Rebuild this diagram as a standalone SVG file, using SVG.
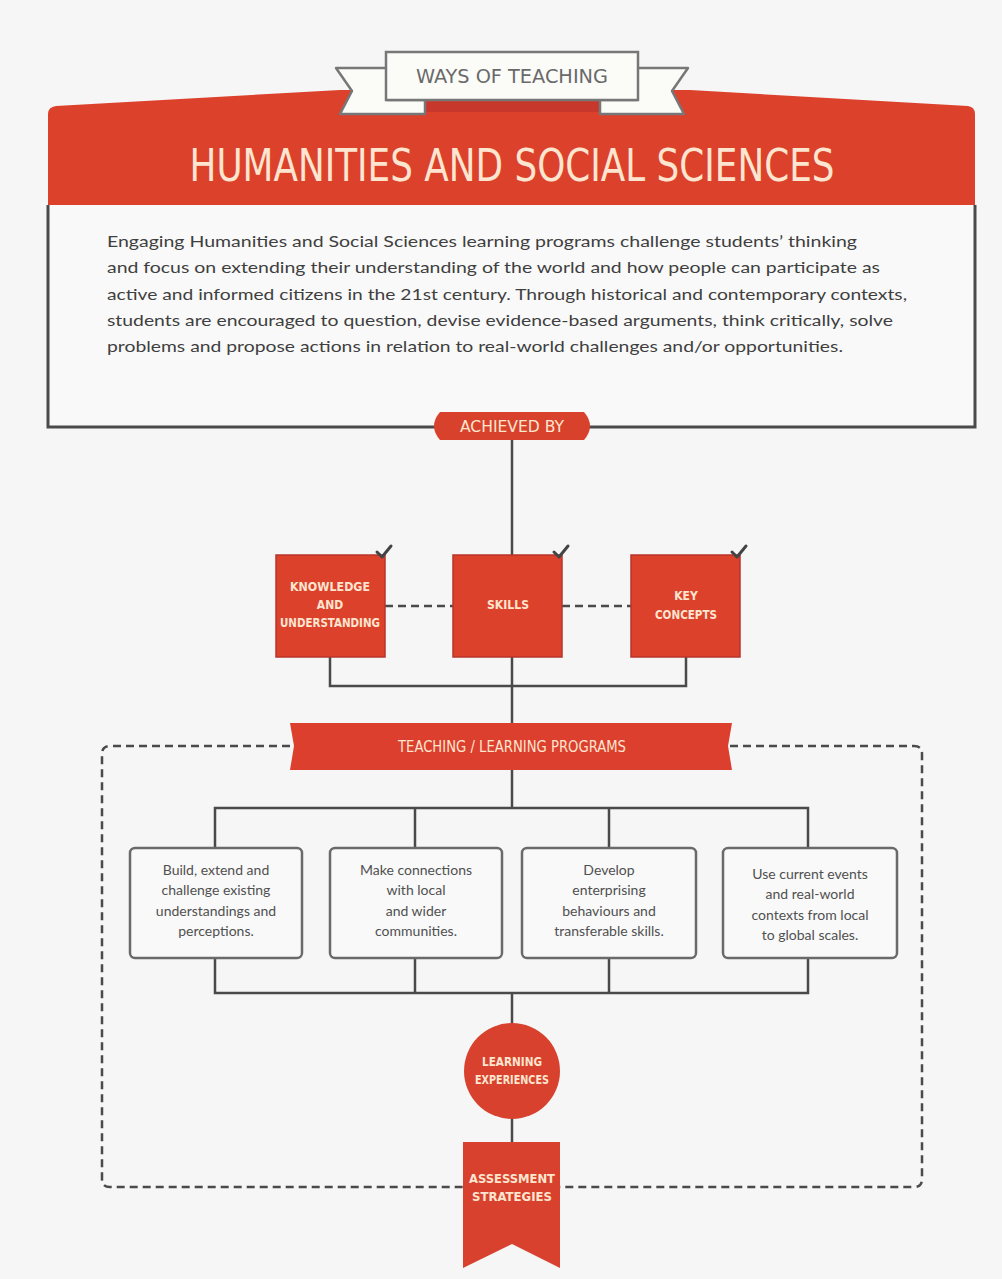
<svg xmlns="http://www.w3.org/2000/svg" width="1002" height="1279" viewBox="0 0 1002 1279">
<style>
.bg{fill:#f6f6f6}
.red{fill:#dc412c}
.cond{font-family:"DejaVu Sans Condensed","DejaVu Sans",sans-serif;font-weight:bold;fill:#fde5d0;text-anchor:middle}
.reg{font-weight:normal}
.body{font-family:Lato,"Open Sans",sans-serif;font-size:15px;fill:#3f3f3f}
.box{font-family:Lato,"Open Sans",sans-serif;font-size:14px;fill:#505050;text-anchor:middle}
.line{stroke:#4a4a4a;stroke-width:2.5;fill:none}
.dash{stroke:#4a4a4a;stroke-width:2.5;fill:none;stroke-dasharray:8 5}
.wbox{fill:#f9f9f9;stroke:#6a6a6a;stroke-width:2.5}
.rbox{fill:#dc412c;stroke:#b8352a;stroke-width:1.5}
.check{stroke:#444;stroke-width:3;fill:none;stroke-linecap:round;stroke-linejoin:round}
</style>
<rect class="bg" x="0" y="0" width="1002" height="1279"/>

<g id="header">
  <path class="red" d="M56,106 L340,90 L690,90 L968,106 Q975,107 975,114 L975,205 L48,205 L48,114 Q48,107 56,106 Z"/>
  <rect x="425" y="98" width="175" height="14" fill="#c8372c"/>
  <text class="cond reg" x="512" y="181" font-size="44" textLength="645" lengthAdjust="spacingAndGlyphs">HUMANITIES AND SOCIAL SCIENCES</text>
</g>

<g id="ribbon">
  <path d="M336,68 L387,68 L387,100 L425,100 L425,114 L340,114 L352,91 Z" fill="#fbfbf8" stroke="#777" stroke-width="2.5" stroke-linejoin="round"/>
  <path d="M688,68 L637,68 L637,100 L600,100 L600,114 L684,114 L672,91 Z" fill="#fbfbf8" stroke="#777" stroke-width="2.5" stroke-linejoin="round"/>
  <rect x="386" y="52" width="252" height="48" fill="#fbfbf8" stroke="#777" stroke-width="2.5"/>
  <text x="512" y="83" font-family="'DejaVu Sans Condensed','DejaVu Sans',sans-serif" font-size="19" fill="#6a6a6a" text-anchor="middle" textLength="192" lengthAdjust="spacingAndGlyphs">WAYS OF TEACHING</text>
</g>

<g id="intro">
  <path d="M48,205 L48,427 L975,427 L975,205" fill="#f9f9f9" stroke="#4a4a4a" stroke-width="3"/>
  <text class="body" x="107" y="247" textLength="750" lengthAdjust="spacingAndGlyphs">Engaging Humanities and Social Sciences learning programs challenge students’ thinking</text>
  <text class="body" x="107" y="273" textLength="773" lengthAdjust="spacingAndGlyphs">and focus on extending their understanding of the world and how people can participate as</text>
  <text class="body" x="107" y="300" textLength="800" lengthAdjust="spacingAndGlyphs">active and informed citizens in the 21st century. Through historical and contemporary contexts,</text>
  <text class="body" x="107" y="326" textLength="786" lengthAdjust="spacingAndGlyphs">students are encouraged to question, devise evidence-based arguments, think critically, solve</text>
  <text class="body" x="107" y="352" textLength="736" lengthAdjust="spacingAndGlyphs">problems and propose actions in relation to real-world challenges and/or opportunities.</text>
</g>

<g id="connectors">
  <line class="line" x1="512" y1="440" x2="512" y2="556"/>
  <line class="dash" x1="385" y1="606" x2="453" y2="606"/>
  <line class="dash" x1="562" y1="606" x2="631" y2="606"/>
  <path class="line" d="M330,657 L330,686 L686,686 L686,657"/>
  <line class="line" x1="512" y1="657" x2="512" y2="724"/>
  <line class="line" x1="512" y1="770" x2="512" y2="808"/>
  <path class="line" d="M215,848 L215,808 L808,808 L808,848"/>
  <line class="line" x1="415" y1="808" x2="415" y2="848"/>
  <line class="line" x1="609" y1="808" x2="609" y2="848"/>
  <path class="line" d="M215,958 L215,993 L808,993 L808,958"/>
  <line class="line" x1="415" y1="958" x2="415" y2="993"/>
  <line class="line" x1="609" y1="958" x2="609" y2="993"/>
  <line class="line" x1="512" y1="993" x2="512" y2="1024"/>
  <line class="line" x1="512" y1="1118" x2="512" y2="1143"/>
  <path class="dash" d="M290,746 L110,746 Q102,746 102,754 L102,1179 Q102,1187 110,1187 L463,1187"/>
  <path class="dash" d="M730,746 L914,746 Q922,746 922,754 L922,1179 Q922,1187 914,1187 L560,1187"/>
</g>

<g id="achieved">
  <path d="M440,412 L584,412 Q596,426 584,440 L440,440 Q428,426 440,412 Z" fill="#d8422c"/>
  <text class="cond reg" x="512" y="432" font-size="16" textLength="104" lengthAdjust="spacingAndGlyphs">ACHIEVED BY</text>
</g>

<g id="knowledge">
  <rect class="rbox" x="276" y="555" width="109" height="102"/>
  <path class="check" d="M377,552 L382,557 L391,546"/>
  <text class="cond" x="330" y="591" font-size="12" textLength="80" lengthAdjust="spacingAndGlyphs">KNOWLEDGE</text>
  <text class="cond" x="330" y="609" font-size="12">AND</text>
  <text class="cond" x="330" y="627" font-size="12" textLength="100" lengthAdjust="spacingAndGlyphs">UNDERSTANDING</text>
</g>

<g id="skills">
  <rect class="rbox" x="453" y="555" width="109" height="102"/>
  <path class="check" d="M554,552 L559,557 L568,546"/>
  <text class="cond" x="508" y="609" font-size="12" textLength="42" lengthAdjust="spacingAndGlyphs">SKILLS</text>
</g>

<g id="keyconcepts">
  <rect class="rbox" x="631" y="555" width="109" height="102"/>
  <path class="check" d="M732,552 L737,557 L746,546"/>
  <text class="cond" x="686" y="600" font-size="12">KEY</text>
  <text class="cond" x="686" y="619" font-size="12" textLength="62" lengthAdjust="spacingAndGlyphs">CONCEPTS</text>
</g>

<g id="program">
  <path d="M290,723 L732,723 L728,746 L732,770 L290,770 L294,746 Z" fill="#dc3f2d"/>
  <text class="cond reg" x="512" y="752" font-size="15" textLength="228" lengthAdjust="spacingAndGlyphs">TEACHING / LEARNING PROGRAMS</text>
</g>

<g id="box1">
  <rect class="wbox" x="130" y="848" width="172" height="110" rx="5"/>
  <text class="box" x="216" y="875">Build, extend and</text>
  <text class="box" x="216" y="895">challenge existing</text>
  <text class="box" x="216" y="916">understandings and</text>
  <text class="box" x="216" y="936">perceptions.</text>
</g>
<g id="box2">
  <rect class="wbox" x="330" y="848" width="172" height="110" rx="5"/>
  <text class="box" x="416" y="875">Make connections</text>
  <text class="box" x="416" y="895">with local</text>
  <text class="box" x="416" y="916">and wider</text>
  <text class="box" x="416" y="936">communities.</text>
</g>
<g id="box3">
  <rect class="wbox" x="522" y="848" width="174" height="110" rx="5"/>
  <text class="box" x="609" y="875">Develop</text>
  <text class="box" x="609" y="895">enterprising</text>
  <text class="box" x="609" y="916">behaviours and</text>
  <text class="box" x="609" y="936">transferable skills.</text>
</g>
<g id="box4">
  <rect class="wbox" x="723" y="848" width="174" height="110" rx="5"/>
  <text class="box" x="810" y="879">Use current events</text>
  <text class="box" x="810" y="899">and real-world</text>
  <text class="box" x="810" y="920">contexts from local</text>
  <text class="box" x="810" y="940">to global scales.</text>
</g>

<g id="experiences">
  <circle cx="512" cy="1071" r="48" fill="#d8412d"/>
  <text class="cond" x="512" y="1066" font-size="12" textLength="60" lengthAdjust="spacingAndGlyphs">LEARNING</text>
  <text class="cond" x="512" y="1084" font-size="12" textLength="74" lengthAdjust="spacingAndGlyphs">EXPERIENCES</text>
</g>

<g id="assessment">
  <path d="M463,1142 L560,1142 L560,1268 L512,1244 L463,1268 Z" fill="#d8412d"/>
  <text class="cond" x="512" y="1183" font-size="12" textLength="86" lengthAdjust="spacingAndGlyphs">ASSESSMENT</text>
  <text class="cond" x="512" y="1201" font-size="12" textLength="80" lengthAdjust="spacingAndGlyphs">STRATEGIES</text>
</g>
</svg>
